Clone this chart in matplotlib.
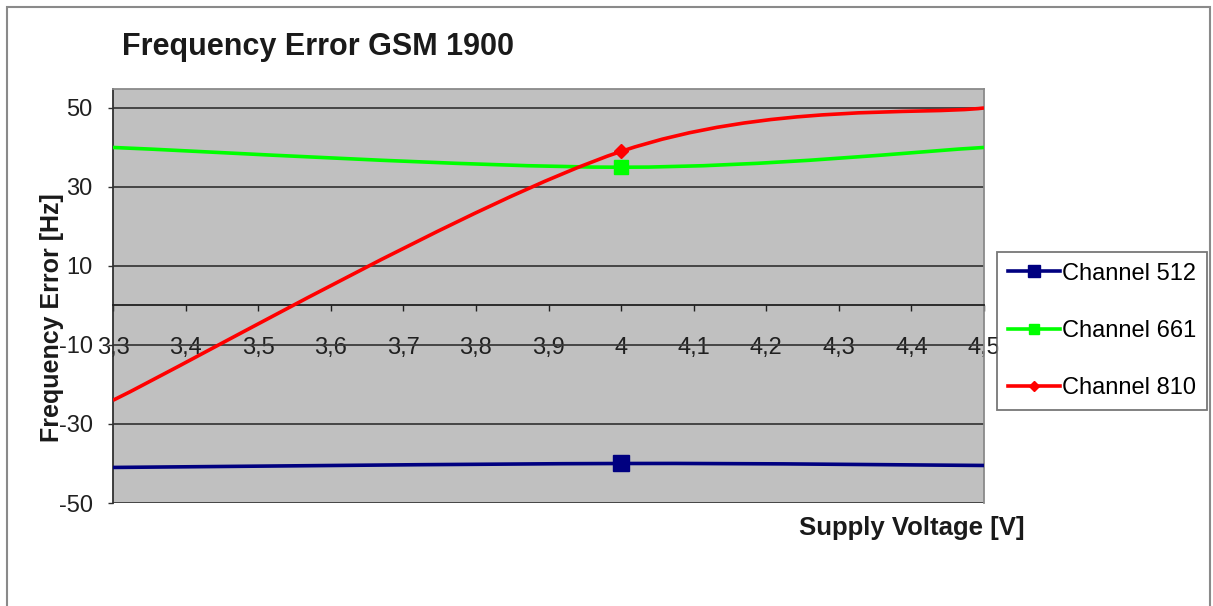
import numpy as np
import matplotlib
matplotlib.use("Agg")
import matplotlib.pyplot as plt
from matplotlib.path import Path
from matplotlib.patches import PathPatch, Rectangle
from matplotlib.lines import Line2D

# data
voltage = [3.3, 4.0, 4.5]
ch512 = [-41.0, -40.0, -40.5]
ch661 = [40.0, 35.0, 40.0]
ch810 = [-24.0, 39.0, 50.0]

x_ticks = [3.3, 3.4, 3.5, 3.6, 3.7, 3.8, 3.9, 4.0, 4.1, 4.2, 4.3, 4.4, 4.5]
x_labels = ["3,3", "3,4", "3,5", "3,6", "3,7", "3,8", "3,9", "4", "4,1", "4,2", "4,3", "4,4", "4,5"]
y_ticks = [-50, -30, -10, 10, 30, 50]

series = [
    ("Channel 512", ch512, "#000080", "s", 11),
    ("Channel 661", ch661, "#00ff00", "s", 10),
    ("Channel 810", ch810, "#ff0000", "D", 7),
]

plt.rcParams["font.family"] = ["Liberation Sans", "DejaVu Sans"]
W, H = 1213, 606


def smooth_path(xs, ys):
    # Excel-like smoothed line: cubic Bezier through the points
    pts = np.column_stack([xs, ys])
    n = len(pts)
    verts = [pts[0]]
    codes = [Path.MOVETO]
    for i in range(n - 1):
        p0 = pts[max(i - 1, 0)]
        p1 = pts[i]
        p2 = pts[i + 1]
        p3 = pts[min(i + 2, n - 1)]
        verts += [p1 + (p2 - p0) / 6, p2 - (p3 - p1) / 6, p2]
        codes += [Path.CURVE4] * 3
    return Path(verts, codes)


fig = plt.figure(figsize=(W / 100, H / 100), dpi=100)
ax = fig.add_axes([113 / W, 1 - 503 / H, (984 - 113) / W, (503 - 89) / H])
ax.set_facecolor("#c0c0c0")
ax.set_xlim(3.3, 4.5)
ax.set_ylim(-50, 54.8)

ax.set_yticks(y_ticks)
ax.set_yticklabels([str(v) for v in y_ticks])
ax.set_xticks(x_ticks)
ax.set_xticklabels(x_labels)
ax.yaxis.grid(True, color="#3c3c3c", lw=1.3)
ax.set_axisbelow(True)

ax.spines["bottom"].set_position(("data", 0))
ax.spines["bottom"].set_color("#202020")
ax.spines["bottom"].set_linewidth(1.3)
ax.spines["left"].set_color("#303030")
ax.spines["left"].set_linewidth(1.3)
for s in ("top", "right"):
    ax.spines[s].set_color("#8a8a8a")
    ax.spines[s].set_linewidth(1.3)

ax.tick_params(axis="y", direction="out", length=3.6, width=1, color="#303030",
               labelsize=17, pad=11, labelcolor="#202020")
ax.tick_params(axis="x", direction="out", length=4.3, width=1, color="#202020",
               labelsize=17, pad=18.5, labelcolor="#202020")

handles = []
for label, vals, color, marker, ms in series:
    patch = PathPatch(smooth_path(voltage, vals), facecolor="none", edgecolor=color,
                      lw=2.6, zorder=3, capstyle="butt")
    ax.add_patch(patch)
    ax.plot(voltage, vals, linestyle="none", marker=marker, markersize=ms,
            color=color, markevery=[1], zorder=4, clip_on=False)
    handles.append(Line2D([], [], color=color, lw=2.6, marker=marker, markersize=ms * 0.75))

leg = fig.legend(handles=handles, labels=[s[0] for s in series],
                 loc="upper left", bbox_to_anchor=(997 / W, 1 - 252 / H),
                 fontsize=17, frameon=True, fancybox=False, edgecolor="#555555",
                 handlelength=2.2, handletextpad=0.1, labelspacing=1.5,
                 borderpad=0.45, borderaxespad=0)
leg.get_frame().set_linewidth(1.3)

fig.text(122 / W, 1 - 47 / H, "Frequency Error GSM 1900", fontsize=22,
         fontweight="bold", ha="left", va="center", color="#1a1a1a")
fig.text(1025 / W, 1 - 528 / H, "Supply Voltage [V]", fontsize=18.5,
         fontweight="bold", ha="right", va="center", color="#1a1a1a")
fig.text(52 / W, 1 - 318 / H, "Frequency Error [Hz]", fontsize=18,
         fontweight="bold", ha="center", va="center", rotation=90, color="#1a1a1a",
         zorder=10)

# chart area border
fig.add_artist(Rectangle((7 / W, -0.02), (1210 - 7) / W, 1.02 - 7 / H,
                         transform=fig.transFigure, facecolor="none",
                         edgecolor="#8a8a8a", lw=1.5))

fig.savefig("out.png", dpi=100)
